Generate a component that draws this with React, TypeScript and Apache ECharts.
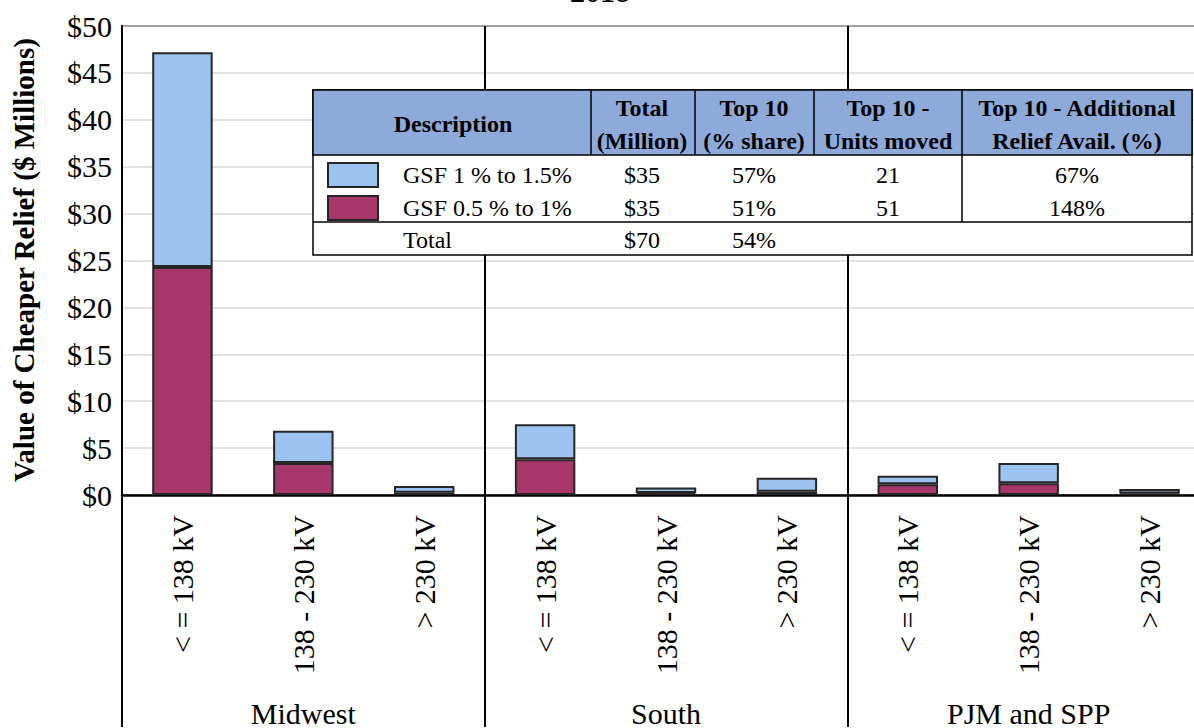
import React, { useEffect, useRef } from "react";
import * as echarts from "echarts";

const FONT = '"Liberation Serif", "Times New Roman", serif';

// categories (voltage classes) and regions
const categories = [
  "< = 138 kV", "138 - 230 kV", "> 230 kV",
  "< = 138 kV", "138 - 230 kV", "> 230 kV",
  "< = 138 kV", "138 - 230 kV", "> 230 kV",
];
const regions = ["Midwest", "South", "PJM and SPP"];

// series values ($ millions)
const gsfLow = [24.3, 3.4, 0.25, 3.8, 0.2, 0.35, 1.15, 1.25, 0.15]; // GSF 0.5 % to 1%
const gsfHigh = [22.9, 3.45, 0.7, 3.75, 0.6, 1.5, 0.9, 2.15, 0.5]; // GSF 1 % to 1.5%

const yTicks = { min: 0, max: 50, interval: 5 };

// table content
const tableHeaderLine1 = ["Total", "Top 10", "Top 10 -", "Top 10 - Additional"];
const tableHeaderLine2 = ["(Million)", "(% share)", "Units moved", "Relief Avail. (%)"];
const rowLabels = ["GSF 1 % to 1.5%", "GSF 0.5 % to 1%", "Total"];
const rowTotals = ["$35", "$35", "$70"];
const rowShares = ["57%", "51%", "54%"];
const rowUnits = ["21", "51", ""];
const rowAdditional = ["67%", "148%", ""];

const BLUE = "#9cc3ef";
const MAGENTA = "#a8386b";
const BORDER = "#262626";

function buildTable(): any[] {
  const L = 313, R = 1192, T = 90, B = 255;
  const headerBottom = 155;
  const totalTop = 222;
  const colSep = [591, 695, 814, 962];
  const colCenters = [642, 754, 888, 1077];
  const rowCenters = [175, 208, 240];
  const els: any[] = [];
  const z = 100;
  els.push({ type: "rect", z, shape: { x: L, y: T, width: R - L, height: B - T }, style: { fill: "#fff", stroke: "#000", lineWidth: 1.5 } });
  els.push({ type: "rect", z, shape: { x: L, y: T, width: R - L, height: headerBottom - T }, style: { fill: "#8eaadb", stroke: "#000", lineWidth: 1.5 } });
  colSep.forEach((x) => {
    els.push({ type: "line", z: z + 1, shape: { x1: x, y1: T, x2: x, y2: headerBottom }, style: { stroke: "#000", lineWidth: 1.5 } });
  });
  els.push({ type: "line", z: z + 1, shape: { x1: colSep[3], y1: headerBottom, x2: colSep[3], y2: totalTop }, style: { stroke: "#000", lineWidth: 1.5 } });
  els.push({ type: "line", z: z + 1, shape: { x1: L, y1: totalTop, x2: R, y2: totalTop }, style: { stroke: "#000", lineWidth: 1.5 } });
  els.push({ type: "text", z: z + 2, x: 453, y: 124, style: { text: "Description", font: `bold 24px ${FONT}`, fill: "#000", align: "center", verticalAlign: "middle" } });
  tableHeaderLine1.forEach((t, i) => {
    els.push({ type: "text", z: z + 2, x: colCenters[i], y: 108, style: { text: t, font: `bold 24px ${FONT}`, fill: "#000", align: "center", verticalAlign: "middle" } });
    els.push({ type: "text", z: z + 2, x: colCenters[i], y: 141, style: { text: tableHeaderLine2[i], font: `bold 24px ${FONT}`, fill: "#000", align: "center", verticalAlign: "middle" } });
  });
  const swatches = [BLUE, MAGENTA];
  swatches.forEach((c, i) => {
    els.push({ type: "rect", z: z + 2, shape: { x: 328, y: rowCenters[i] - 12, width: 50, height: 24 }, style: { fill: c, stroke: BORDER, lineWidth: 2 } });
  });
  rowLabels.forEach((lab, i) => {
    const y = rowCenters[i];
    const f = `24px ${FONT}`;
    els.push({ type: "text", z: z + 2, x: 403, y, style: { text: lab, font: f, fill: "#000", align: "left", verticalAlign: "middle" } });
    const vals = [rowTotals[i], rowShares[i], rowUnits[i], rowAdditional[i]];
    vals.forEach((v, j) => {
      if (!v) return;
      els.push({ type: "text", z: z + 2, x: colCenters[j], y, style: { text: v, font: f, fill: "#000", align: "center", verticalAlign: "middle" } });
    });
  });
  return els;
}

export default function App() {
  const ref = useRef<HTMLDivElement>(null);
  useEffect(() => {
    if (!ref.current) return;
    const chart = echarts.init(ref.current, null, { renderer: "svg" });
    const barItem = (color: string) => ({ color, borderColor: BORDER, borderWidth: 2 });
    const option: any = {
      animation: false,
      backgroundColor: "#fff",
      textStyle: { fontFamily: FONT },
      grid: { left: 122, top: 26, right: 0, bottom: 232, show: true, borderColor: "#000", borderWidth: 2, backgroundColor: "transparent" },
      xAxis: [
        {
          type: "category",
          data: categories,
          axisLine: { lineStyle: { color: "#000", width: 2.5 } },
          axisTick: { show: false },
          axisLabel: { rotate: 90, interval: 0, margin: 20, fontSize: 30, color: "#000", fontFamily: FONT },
          splitLine: { show: false },
        },
        {
          type: "category",
          data: regions,
          position: "bottom",
          axisLine: { show: false },
          axisTick: { show: true, interval: 0, length: 232, lineStyle: { color: "#000", width: 2 } },
          axisLabel: { interval: 0, margin: 203, fontSize: 30, color: "#000", fontFamily: FONT },
          splitLine: { show: true, interval: 0, lineStyle: { color: "#000", width: 2 } },
        },
      ],
      yAxis: {
        type: "value",
        min: yTicks.min,
        max: yTicks.max,
        interval: yTicks.interval,
        axisLine: { show: true, lineStyle: { color: "#000", width: 2 } },
        axisTick: { show: false },
        axisLabel: { formatter: (v: number) => "$" + v, fontSize: 30, color: "#000", margin: 10, fontFamily: FONT },
        splitLine: { lineStyle: { color: "#d9d9d9", width: 1.5 } },
      },
      series: [
        { name: "GSF 0.5 % to 1%", type: "bar", stack: "gsf", xAxisIndex: 0, data: gsfLow, barWidth: "50%", itemStyle: barItem(MAGENTA) },
        { name: "GSF 1 % to 1.5%", type: "bar", stack: "gsf", xAxisIndex: 0, data: gsfHigh, barWidth: "50%", itemStyle: barItem(BLUE) },
      ],
      graphic: [
        { type: "text", x: 600, y: 6, z: 50, style: { text: "2018", font: `bold 30px ${FONT}`, fill: "#000", align: "center", verticalAlign: "bottom" } },
        { type: "text", x: 24, y: 260, rotation: Math.PI / 2, z: 50, style: { text: "Value of Cheaper Relief ($ Millions)", font: `bold 29px ${FONT}`, fill: "#000", align: "center", verticalAlign: "middle" } },
        ...buildTable(),
      ],
    };
    chart.setOption(option);
    return () => chart.dispose();
  }, []);
  return (
    <div style={{ position: "fixed", left: 0, top: 0, width: 1194, height: 728, overflow: "hidden" }}>
      <div ref={ref} style={{ width: 1210, height: 728 }} />
    </div>
  );
}
